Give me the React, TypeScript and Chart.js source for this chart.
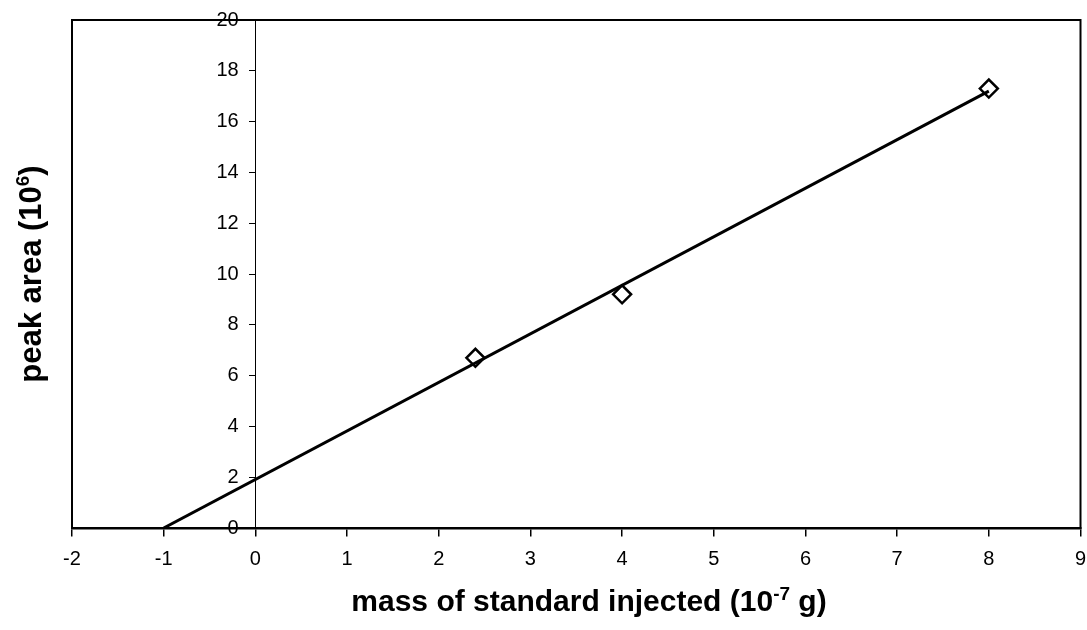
import React, { useEffect, useRef } from "react";
import { Chart, registerables } from "chart.js";

Chart.register(...registerables);

// ---- data ----
const massInjected = [2.4, 4.0, 8.0];
const peakArea = [6.7, 9.2, 17.3];
const trendMass = [-1, 8];
const trendArea = [0, 17.2];

const xMin = -2;
const xMax = 9;
const yMin = 0;
const yMax = 20;
const xStep = 1;
const yStep = 2;

const xTitleMain = "mass of standard injected (10";
const xTitleSup = "-7";
const xTitleEnd = " g)";
const yTitleMain = "peak area (10";
const yTitleSup = "6";
const yTitleEnd = ")";

const FONT = "'Liberation Sans', Arial, Helvetica, sans-serif";

function drawSupTitle(
  ctx: CanvasRenderingContext2D,
  main: string,
  sup: string,
  end: string,
  size: number,
) {
  const mainFont = `bold ${size}px ${FONT}`;
  const supFont = `bold ${Math.round(size * 0.62)}px ${FONT}`;
  ctx.font = mainFont;
  const w1 = ctx.measureText(main).width;
  const w3 = ctx.measureText(end).width;
  ctx.font = supFont;
  const w2 = ctx.measureText(sup).width;
  const total = w1 + w2 + w3;
  let x = -total / 2;
  ctx.textBaseline = "alphabetic";
  ctx.textAlign = "left";
  ctx.fillStyle = "#000";
  ctx.font = mainFont;
  ctx.fillText(main, x, 0);
  x += w1;
  ctx.font = supFont;
  ctx.fillText(sup, x, -size * 0.38);
  x += w2;
  ctx.font = mainFont;
  ctx.fillText(end, x, 0);
}

const framePlugin = {
  id: "frameAndTitles",
  beforeDatasetsDraw(chart: any) {
    const { ctx, chartArea } = chart;
    ctx.save();
    ctx.strokeStyle = "#000";
    ctx.lineWidth = 2;
    ctx.strokeRect(
      chartArea.left,
      chartArea.top,
      chartArea.right - chartArea.left,
      chartArea.bottom - chartArea.top,
    );
    ctx.restore();
  },
  afterDraw(chart: any) {
    const { ctx, chartArea } = chart;
    // x title
    ctx.save();
    ctx.translate(589, 611);
    drawSupTitle(ctx, xTitleMain, xTitleSup, xTitleEnd, 30);
    ctx.restore();
    // y title
    ctx.save();
    ctx.translate(41, (chartArea.top + chartArea.bottom) / 2);
    ctx.rotate(-Math.PI / 2);
    drawSupTitle(ctx, yTitleMain, yTitleSup, yTitleEnd, 31);
    ctx.restore();
  },
};

export default function App() {
  const ref = useRef<HTMLCanvasElement | null>(null);

  useEffect(() => {
    if (!ref.current) return;
    const chart = new Chart(ref.current, {
      type: "scatter",
      data: {
        datasets: [
          {
            label: "standards",
            data: massInjected.map((x, i) => ({ x, y: peakArea[i] })),
            pointStyle: "rectRot",
            pointRadius: 9,
            pointBorderWidth: 2.5,
            borderColor: "#000",
            backgroundColor: "rgba(0,0,0,0)",
            showLine: false,
            order: 0,
          },
          {
            label: "fit",
            data: trendMass.map((x, i) => ({ x, y: trendArea[i] })),
            showLine: true,
            borderColor: "#000",
            borderWidth: 3,
            pointRadius: 0,
            fill: false,
            order: 1,
          },
        ],
      },
      options: {
        responsive: false,
        animation: false,
        layout: { padding: { left: 72, top: 20, right: 6, bottom: 102 } },
        plugins: {
          legend: { display: false },
          tooltip: { enabled: false },
          title: { display: false },
        },
        scales: {
          x: {
            type: "linear",
            position: { y: 0 } as any,
            min: xMin,
            max: xMax,
            ticks: {
              stepSize: xStep,
              font: { family: FONT, size: 20, lineHeight: 2.4 },
              color: "#000",
              padding: 0,
            },
            grid: {
              drawOnChartArea: false,
              drawTicks: true,
              tickLength: 7,
              color: "#000",
              lineWidth: 1.5,
            },
            border: { display: true, color: "#000", width: 2.5 },
          },
          y: {
            type: "linear",
            position: { x: 0 } as any,
            min: yMin,
            max: yMax,
            ticks: {
              stepSize: yStep,
              font: { family: FONT, size: 20 },
              color: "#000",
              padding: 8,
              callback: (v: any) => `${v}   `,
            },
            grid: {
              drawOnChartArea: false,
              drawTicks: true,
              tickLength: 6,
              color: "#000",
              lineWidth: 1,
            },
            border: { display: true, color: "#000", width: 1 },
          },
        },
      },
      plugins: [framePlugin],
    });
    return () => chart.destroy();
  }, []);

  return (
    <div
      style={{
        position: "fixed",
        left: 0,
        top: 0,
        width: 1087,
        height: 630,
        overflow: "hidden",
        background: "#fff",
      }}
    >
      <canvas ref={ref} width={1092} height={630} style={{ display: "block" }} />
    </div>
  );
}
